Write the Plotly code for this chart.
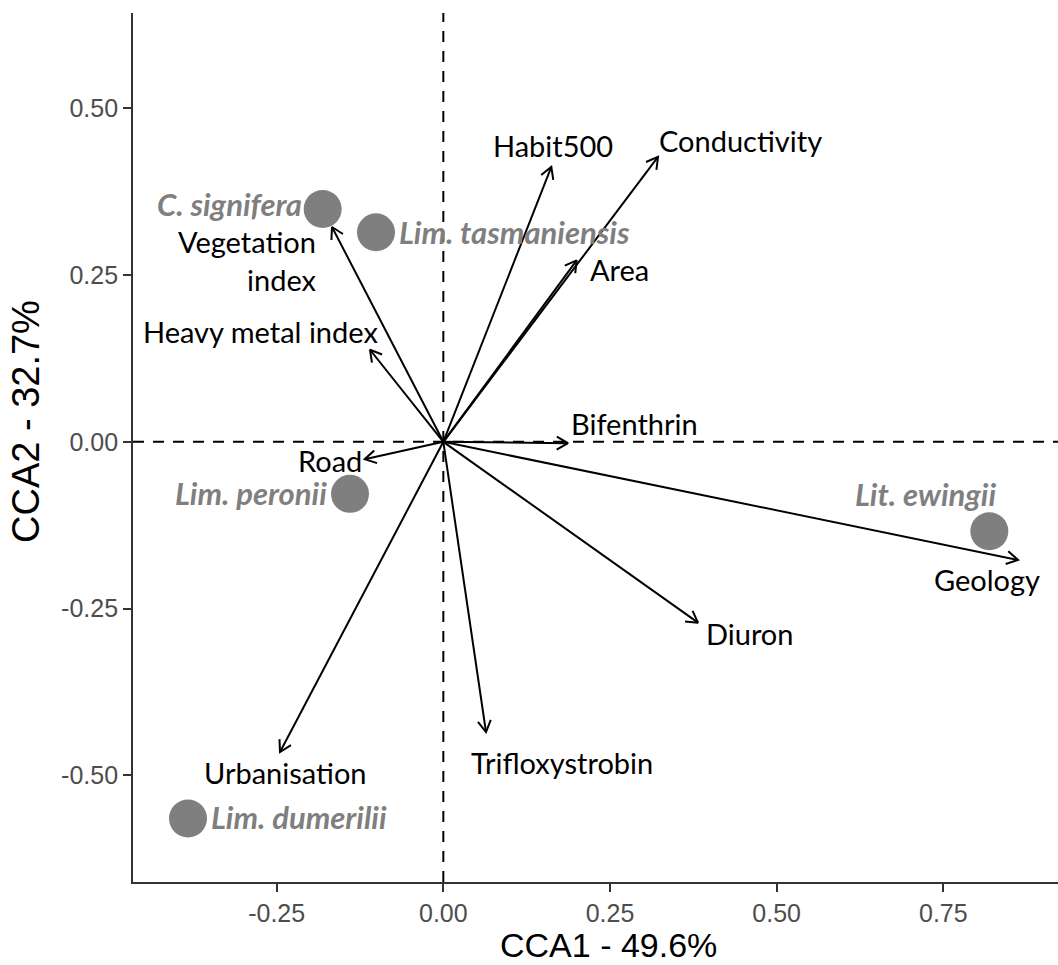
import math
import plotly.graph_objects as go

# ---------------- data ----------------
env_names = ["Habit500", "Conductivity", "Area", "Vegetation<br>index", "Heavy metal index",
             "Bifenthrin", "Road", "Geology", "Diuron", "Trifloxystrobin", "Urbanisation"]
env_cca1 = [0.162, 0.322, 0.200, -0.167, -0.110, 0.187, -0.118, 0.862, 0.382, 0.064, -0.245]
env_cca2 = [0.412, 0.427, 0.272, 0.322, 0.138, -0.002, -0.026, -0.177, -0.271, -0.435, -0.465]
env_label_cca1 = [0.1645, 0.4464, 0.2636, -0.1865, -0.274, 0.287, -0.170, 0.816, 0.459, 0.178, -0.237]
env_label_cca2 = [0.4448, 0.4523, 0.2589, 0.272, 0.166, 0.028, -0.0274, -0.207, -0.287, -0.480, -0.495]

species = ["C. signifera", "Lim. tasmaniensis", "Lim. peronii", "Lit. ewingii", "Lim. dumerilii"]
sp_cca1 = [-0.181, -0.101, -0.140, 0.819, -0.383]
sp_cca2 = [0.349, 0.314, -0.078, -0.134, -0.5645]
sp_label_cca1 = [-0.3207, 0.1068, -0.2892, 0.7225, -0.2164]
sp_label_cca2 = [0.3564, 0.3144, -0.0769, -0.0784, -0.5627]

x_ticks = [-0.25, 0.0, 0.25, 0.50, 0.75]
y_ticks = [-0.50, -0.25, 0.0, 0.25, 0.50]
x_title = "CCA1 - 49.6%"
y_title = "CCA2 - 32.7%"

# ---------------- layout constants ----------------
W, H = 1058, 965
ML, MR, MT, MB = 133, 0, 13, 83
XR = [-0.4655, 0.922]
YR = [-0.6597, 0.6427]
pxu = (W - ML - MR) / (XR[1] - XR[0])
pyu = (H - MT - MB) / (YR[1] - YR[0])

LABEL_FONT = "Lato"
TICK_FONT = "Liberation Sans"
GREY = "#7f7f7f"

fig = go.Figure()

# dashed reference lines
fig.add_shape(type="line", xref="x", yref="paper", x0=0, x1=0, y0=0, y1=1,
              line=dict(color="black", width=2, dash="11px,9px"), layer="below")
fig.add_shape(type="line", xref="paper", yref="y", x0=0, x1=1, y0=0, y1=0,
              line=dict(color="black", width=2, dash="11px,9px"), layer="below")

# arrows (shaft + open V head)
head_len = 13.0
head_ang = math.radians(30)
ax, ay = [], []
for x, y in zip(env_cca1, env_cca2):
    dx, dy = x * pxu, y * pyu
    L = math.hypot(dx, dy)
    ux, uy = -dx / L, -dy / L
    ax += [0, x, None]
    ay += [0, y, None]
    arms = []
    for s in (1, -1):
        c, sn = math.cos(s * head_ang), math.sin(s * head_ang)
        rx = ux * c - uy * sn
        ry = ux * sn + uy * c
        arms.append((x + rx * head_len / pxu, y + ry * head_len / pyu))
    ax += [arms[0][0], x, arms[1][0], None]
    ay += [arms[0][1], y, arms[1][1], None]

fig.add_trace(go.Scatter(x=ax, y=ay, mode="lines",
                         line=dict(color="black", width=2),
                         hoverinfo="skip", showlegend=False))

# species points
fig.add_trace(go.Scatter(x=sp_cca1, y=sp_cca2, mode="markers",
                         marker=dict(size=38, color=GREY, line=dict(width=0)),
                         text=species, hoverinfo="text", showlegend=False))

annotations = []
for name, x, y in zip(env_names, env_label_cca1, env_label_cca2):
    anchor = "right" if "Vegetation" in name else "center"
    annotations.append(dict(x=x, y=y, xref="x", yref="y", text=name, showarrow=False,
                            xanchor=anchor, yanchor="middle", align="right",
                            font=dict(family=LABEL_FONT, size=29, color="black")))
for name, x, y in zip(species, sp_label_cca1, sp_label_cca2):
    annotations.append(dict(x=x, y=y, xref="x", yref="y", text="<b><i>%s</i></b>" % name,
                            showarrow=False, xanchor="center", yanchor="middle",
                            font=dict(family=LABEL_FONT, size=31, color=GREY)))

# axis titles
annotations.append(dict(x=(608 - ML) / (W - ML - MR), y=(H - MB - 945) / (H - MT - MB),
                        xref="paper", yref="paper", text=x_title, showarrow=False,
                        xanchor="center", yanchor="middle",
                        font=dict(family=TICK_FONT, size=34, color="black")))
annotations.append(dict(x=(26 - ML) / (W - ML - MR), y=(H - MB - 422) / (H - MT - MB),
                        xref="paper", yref="paper", text=y_title, showarrow=False,
                        textangle=-90, xanchor="center", yanchor="middle",
                        font=dict(family=TICK_FONT, size=38, color="black")))

axis_common = dict(showgrid=False, zeroline=False, showline=True, linecolor="#333333",
                   linewidth=1.8, ticks="outside", ticklen=8, tickwidth=1.8,
                   tickcolor="#333333",
                   tickfont=dict(family=TICK_FONT, size=25, color="#4d4d4d"))

fig.update_layout(
    width=W, height=H,
    margin=dict(l=ML, r=MR, t=MT, b=MB),
    paper_bgcolor="white", plot_bgcolor="white",
    xaxis=dict(range=XR, tickvals=x_ticks, ticktext=["%.2f" % v for v in x_ticks], **axis_common),
    yaxis=dict(range=YR, tickvals=y_ticks, ticktext=["%.2f" % v for v in y_ticks], **axis_common),
    annotations=annotations,
    showlegend=False,
)

fig.write_html("out.html")
